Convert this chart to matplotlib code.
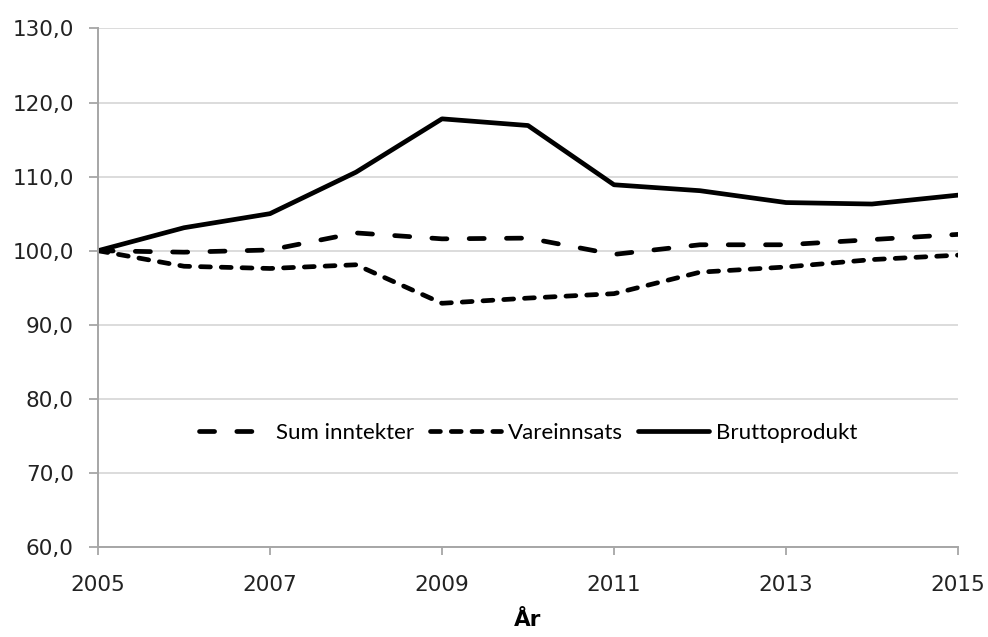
import matplotlib
matplotlib.use("Agg")
import matplotlib.pyplot as plt
from matplotlib.ticker import FuncFormatter, MultipleLocator

years = [2005, 2006, 2007, 2008, 2009, 2010, 2011, 2012, 2013, 2014, 2015]
sum_inntekter = [100.0, 99.8, 100.1, 102.4, 101.6, 101.7, 99.5, 100.8, 100.8, 101.5, 102.2]
vareinnsats = [100.0, 97.9, 97.6, 98.1, 92.9, 93.6, 94.2, 97.1, 97.8, 98.8, 99.4]
bruttoprodukt = [100.0, 103.1, 105.0, 110.6, 117.8, 116.9, 108.9, 108.1, 106.5, 106.3, 107.5]
labels = ["Sum inntekter", "Vareinnsats", "Bruttoprodukt"]

fig = plt.figure(figsize=(9.88, 6.37), dpi=100)
ax = fig.add_axes([0.0992, 0.1413, 0.8704, 0.8140])

lw = 3.4
ax.plot(years, sum_inntekter, color="black", lw=lw, dashes=(3.2, 4.7),
        dash_capstyle="round", label=labels[0])
ax.plot(years, vareinnsats, color="black", lw=lw, dashes=(2.1, 2.3),
        dash_capstyle="round", label=labels[1])
ax.plot(years, bruttoprodukt, color="black", lw=lw, solid_capstyle="round",
        label=labels[2])

ax.set_xlim(2005, 2015)
ax.set_ylim(60, 130)
ax.yaxis.set_major_locator(MultipleLocator(10))
ax.set_xticks(years[::2])
ax.yaxis.set_major_formatter(FuncFormatter(lambda v, p: f"{v:.1f}".replace(".", ",")))
ax.grid(axis="y", color="#d9d9d9", lw=1.3)
ax.set_axisbelow(True)

for side in ["top", "right"]:
    ax.spines[side].set_visible(False)
for side in ["left", "bottom"]:
    ax.spines[side].set_color("#a6a6a6")
    ax.spines[side].set_linewidth(1.4)

ax.tick_params(axis="y", length=6.5, width=1.3, color="#a6a6a6", labelsize=15.5,
               labelcolor="#222222", pad=11)
ax.tick_params(axis="x", length=6, width=1.3, color="#a6a6a6", labelsize=15.5,
               labelcolor="#222222", pad=14)

ax.set_xlabel("År", fontsize=15.5, fontweight="bold", labelpad=11)

ax.legend(loc="center", bbox_to_anchor=(0.5, 0.22), ncol=3, frameon=False,
          prop={"family": "Lato", "size": 16}, handlelength=3.2,
          handletextpad=0.3, columnspacing=0.7)

fig.savefig("out.png", dpi=100)
